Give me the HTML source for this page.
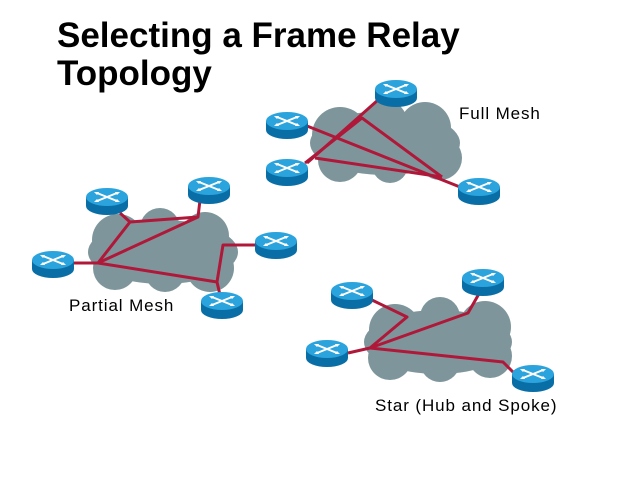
<!DOCTYPE html>
<html><head><meta charset="utf-8"><style>
html,body{margin:0;padding:0;background:#fff;}
body{width:640px;height:480px;overflow:hidden;position:relative;font-family:"Liberation Sans",sans-serif;}
.t{position:absolute;left:57px;font-weight:bold;font-size:35px;line-height:38px;color:#000;}
.l{position:absolute;font-size:17px;letter-spacing:0.9px;color:#000;}
</style></head><body>
<svg width="640" height="480" style="position:absolute;left:0;top:0">
<defs>
<g id="r">
<path d="M-21 0 L-21 9 A21 9 0 0 0 21 9 L21 0 Z" fill="#0a6ea6"/>
<ellipse cx="0" cy="0" rx="21" ry="9" fill="#2ba3dc"/>
<g stroke="#fff" stroke-width="2" fill="none">
<path d="M-10 -4 L10 4 M-10 4 L10 -4"/>
</g>
<g fill="#fff">
<path d="M-13 -5 l5 0 l-2 3z M13 5 l-5 0 l2 -3z M-13 5 l5 0 l-2 -3z M13 -5 l-5 0 l2 3z"/>
</g>
</g>
</defs>
<g fill="#7e969b">
<ellipse cx="385" cy="143" rx="75" ry="32"/>
<circle cx="340" cy="135" r="28"/><circle cx="385" cy="122" r="22"/><circle cx="425" cy="128" r="26"/>
<circle cx="340" cy="160" r="22"/><circle cx="390" cy="165" r="18"/><circle cx="440" cy="158" r="22"/>
<ellipse cx="163" cy="252" rx="75" ry="32"/>
<circle cx="118" cy="240" r="26"/><circle cx="160" cy="228" r="20"/><circle cx="205" cy="236" r="24"/>
<circle cx="115" cy="268" r="22"/><circle cx="165" cy="272" r="20"/><circle cx="210" cy="268" r="24"/>
<ellipse cx="438" cy="342" rx="74" ry="32"/>
<circle cx="395" cy="330" r="26"/><circle cx="440" cy="317" r="20"/><circle cx="485" cy="327" r="26"/>
<circle cx="390" cy="358" r="22"/><circle cx="440" cy="362" r="20"/><circle cx="490" cy="356" r="22"/>
</g>
<g stroke="#b0183a" stroke-width="3" fill="none" stroke-linejoin="round">
<path d="M378 100 L307 163"/>
<path d="M307 126 L460 187"/>
<path d="M305 163 L362 118 L442 177"/>
<path d="M315 158 L442 177"/>
<path d="M120 213 L130 222 L198 217 L200 200"/>
<path d="M73 263 L98 263 L130 222"/>
<path d="M98 263 L198 217"/>
<path d="M98 263 L217 282 L220 295"/>
<path d="M217 282 L223 245 L255 245"/>
<path d="M348 353 L370 348 L407 317 L372 300"/>
<path d="M370 348 L468 313 L480 292"/>
<path d="M370 348 L503 362 L514 373"/>
</g>
<use href="#r" x="396" y="89"/>
<use href="#r" x="287" y="121"/>
<use href="#r" x="287" y="168"/>
<use href="#r" x="479" y="187"/>
<use href="#r" x="107" y="197"/>
<use href="#r" x="209" y="186"/>
<use href="#r" x="276" y="241"/>
<use href="#r" x="53" y="260"/>
<use href="#r" x="222" y="301"/>
<use href="#r" x="352" y="291"/>
<use href="#r" x="483" y="278"/>
<use href="#r" x="327" y="349"/>
<use href="#r" x="533" y="374"/>
</svg>
<div class="t" style="top:17px">Selecting a Frame Relay<br>Topology</div>
<div class="l" style="left:459px;top:104px">Full Mesh</div>
<div class="l" style="left:69px;top:296px">Partial Mesh</div>
<div class="l" style="left:375px;top:396px">Star (Hub and Spoke)</div>
</body></html>
